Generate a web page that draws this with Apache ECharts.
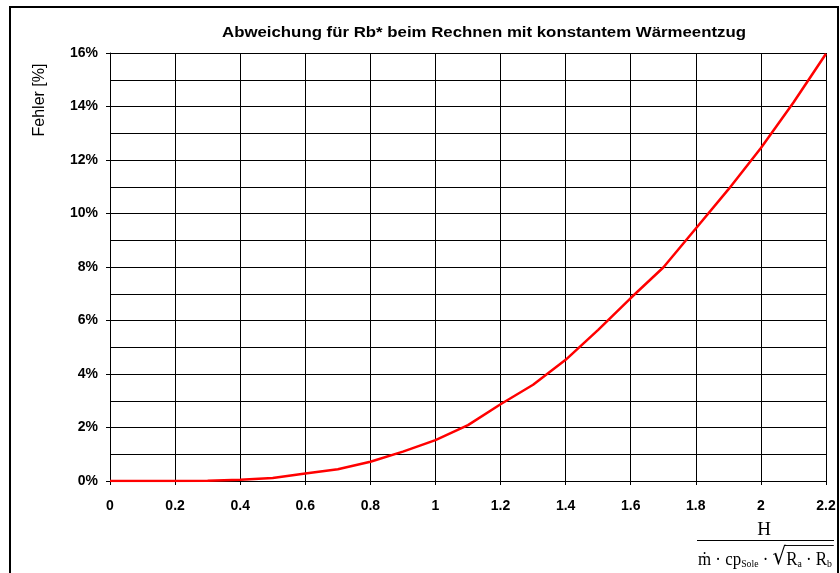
<!DOCTYPE html>
<html>
<head>
<meta charset="utf-8">
<script src="https://cdn.jsdelivr.net/npm/echarts@6/dist/echarts.min.js"></script>
<style>html,body{margin:0;padding:0;background:#fff}#c{width:840px;height:573px}</style>
</head>
<body>
<div id="c"></div>
<script>
// Data
var xValues   = [0, 0.1, 0.2, 0.3, 0.4, 0.5, 0.6, 0.7, 0.8, 0.9, 1.0, 1.1, 1.2, 1.3, 1.4, 1.5, 1.6, 1.7, 1.8, 1.9, 2.0, 2.1, 2.2];
var errorPct  = [0, 0, 0, 0.01, 0.05, 0.11, 0.28, 0.44, 0.72, 1.1, 1.53, 2.09, 2.87, 3.6, 4.53, 5.65, 6.84, 7.98, 9.44, 10.9, 12.45, 14.15, 15.97];
var titleText = 'Abweichung für Rb* beim Rechnen mit konstantem Wärmeentzug';
var yName     = 'Fehler [%]';
var numText   = 'H';

var seriesData = xValues.map(function (x, i) { return [x, errorPct[i]]; });

// text measurement helper
var mctx = document.createElement('canvas').getContext('2d');
function tw(txt, font) { mctx.font = font; return mctx.measureText(txt).width; }

var titleFont = 'bold 14px "Liberation Sans"';
var titleScale = 524 / tw(titleText, titleFont);

var nFont = '19px "Liberation Serif"';
var sFont = '11px "Liberation Serif"';
var rFont = '24px "DejaVu Serif"';
var wA = tw('ṁ · cp', nFont) + tw('Sole', sFont) + tw(' · ', nFont);
var wR = tw('√', rFont);
var wB = tw('R', nFont) + tw('a', sFont) + tw(' · R', nFont) + tw('b', sFont);
var denW = wA + wR + wB;
var denScale = 134 / denW;
var overStart = wA + wR - 1;

var chart = echarts.init(document.getElementById('c'), null, {renderer: 'canvas'});
chart.setOption({
  animation: false,
  backgroundColor: '#fff',
  grid: {left: 110, right: 14, top: 53, bottom: 92, containLabel: false},
  xAxis: {
    type: 'value', min: 0, max: 2.2, interval: 0.2,
    axisLine: {show: true, lineStyle: {color: '#000', width: 1}},
    axisTick: {show: true, length: 4, lineStyle: {color: '#000'}},
    axisLabel: {
      margin: 18, color: '#000', fontFamily: 'Liberation Sans', fontWeight: 'bold', fontSize: 14,
      formatter: function (v) { return String(+v.toFixed(1)); }
    },
    splitLine: {show: true, lineStyle: {color: '#000', width: 1}}
  },
  yAxis: {
    type: 'value', min: 0, max: 16, interval: 2,
    axisLine: {show: true, lineStyle: {color: '#000', width: 1}},
    axisTick: {show: true, length: 4, lineStyle: {color: '#000'}},
    axisLabel: {
      margin: 12, color: '#000', fontFamily: 'Liberation Sans', fontWeight: 'bold', fontSize: 14,
      formatter: function (v) { return v + '%'; }
    },
    splitLine: {show: true, lineStyle: {color: '#000', width: 1}},
    minorTick: {show: false, splitNumber: 2},
    minorSplitLine: {show: true, lineStyle: {color: '#000', width: 1}}
  },
  series: [{
    type: 'line', data: seriesData, showSymbol: false, symbol: 'none',
    lineStyle: {color: '#ff0000', width: 2.5}, smooth: false
  }],
  graphic: [
    {type: 'rect', silent: true, shape: {x: 10, y: 7, width: 828, height: 600},
     style: {fill: 'none', stroke: '#000', lineWidth: 2}},
    {type: 'text', x: 484, y: 33, scaleX: titleScale, silent: true,
     style: {text: titleText, font: titleFont, fill: '#000', align: 'center', verticalAlign: 'middle'}},
    {type: 'text', x: 40, y: 100, rotation: Math.PI / 2, silent: true,
     style: {text: yName, font: '16px "Liberation Sans"', fill: '#000', align: 'center', verticalAlign: 'middle'}},
    {type: 'text', x: 764, y: 530, silent: true,
     style: {text: numText, font: '19px "Liberation Serif"', fill: '#000', align: 'center', verticalAlign: 'middle'}},
    {type: 'line', silent: true, shape: {x1: 697, y1: 540.5, x2: 834, y2: 540.5},
     style: {stroke: '#000', lineWidth: 1}},
    {type: 'group', x: 698, y: 0, scaleX: denScale, silent: true, children: [
      {type: 'text', x: 0, y: 558,
       style: {
         text: '{n|ṁ · cp}{s|Sole}{n| · }{r|√}{n|R}{s|a}{n| · R}{s|b}',
         verticalAlign: 'middle', align: 'left', fill: '#000',
         rich: {
           n: {font: nFont, lineHeight: 24, verticalAlign: 'bottom', fill: '#000'},
           s: {font: sFont, lineHeight: 24, verticalAlign: 'bottom', fill: '#000'},
           r: {font: rFont, lineHeight: 24, verticalAlign: 'bottom', fill: '#000'}
         }
       }},
      {type: 'line', shape: {x1: overStart, y1: 545.5, x2: denW + 2, y2: 545.5},
       style: {stroke: '#000', lineWidth: 1}}
    ]}
  ]
});
</script>
</body>
</html>
